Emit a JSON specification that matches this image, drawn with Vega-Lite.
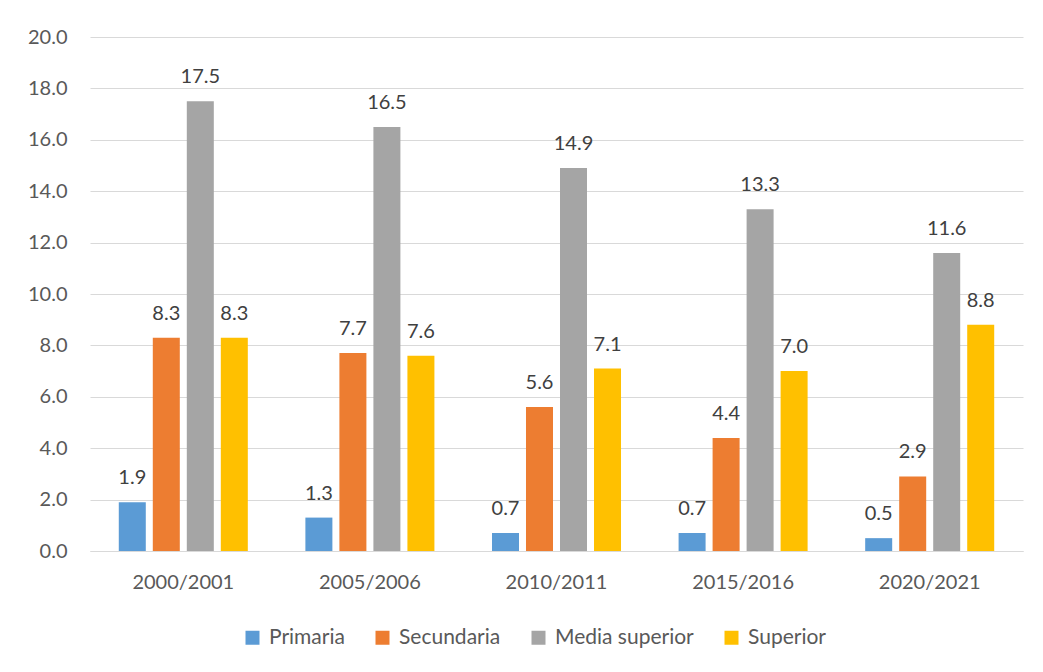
{
  "$schema": "https://vega.github.io/schema/vega-lite/v6.json",
  "width": 933,
  "height": 514,
  "autosize": "none",
  "padding": {"left": 90, "top": 37, "right": 20, "bottom": 121},
  "background": "white",
  "config": {
    "view": {"stroke": null},
    "font": "Lato"
  },
  "data": {
    "values": [
      {"periodo": "2000/2001", "nivel": "Primaria", "valor": 1.9},
      {"periodo": "2000/2001", "nivel": "Secundaria", "valor": 8.3},
      {"periodo": "2000/2001", "nivel": "Media superior", "valor": 17.5},
      {"periodo": "2000/2001", "nivel": "Superior", "valor": 8.3},
      {"periodo": "2005/2006", "nivel": "Primaria", "valor": 1.3},
      {"periodo": "2005/2006", "nivel": "Secundaria", "valor": 7.7},
      {"periodo": "2005/2006", "nivel": "Media superior", "valor": 16.5},
      {"periodo": "2005/2006", "nivel": "Superior", "valor": 7.6},
      {"periodo": "2010/2011", "nivel": "Primaria", "valor": 0.7},
      {"periodo": "2010/2011", "nivel": "Secundaria", "valor": 5.6},
      {"periodo": "2010/2011", "nivel": "Media superior", "valor": 14.9},
      {"periodo": "2010/2011", "nivel": "Superior", "valor": 7.1},
      {"periodo": "2015/2016", "nivel": "Primaria", "valor": 0.7},
      {"periodo": "2015/2016", "nivel": "Secundaria", "valor": 4.4},
      {"periodo": "2015/2016", "nivel": "Media superior", "valor": 13.3},
      {"periodo": "2015/2016", "nivel": "Superior", "valor": 7.0},
      {"periodo": "2020/2021", "nivel": "Primaria", "valor": 0.5},
      {"periodo": "2020/2021", "nivel": "Secundaria", "valor": 2.9},
      {"periodo": "2020/2021", "nivel": "Media superior", "valor": 11.6},
      {"periodo": "2020/2021", "nivel": "Superior", "valor": 8.8}
    ]
  },
  "encoding": {
    "x": {
      "field": "periodo",
      "type": "nominal",
      "sort": null,
      "scale": {"paddingInner": 0.271, "paddingOuter": 0.1355},
      "axis": {
        "title": null,
        "labelAngle": 0,
        "labelFontSize": 20,
        "labelColor": "#595959",
        "labelPadding": 21,
        "ticks": false,
        "domainColor": "#d9d9d9",
        "domainWidth": 1
      }
    },
    "xOffset": {
      "field": "nivel",
      "type": "nominal",
      "sort": ["Primaria", "Secundaria", "Media superior", "Superior"],
      "scale": {"paddingInner": 0.206, "paddingOuter": 0.103}
    },
    "y": {
      "field": "valor",
      "type": "quantitative",
      "scale": {"domain": [0, 20]},
      "axis": {
        "title": null,
        "values": [0, 2, 4, 6, 8, 10, 12, 14, 16, 18, 20],
        "format": ".1f",
        "labelFontSize": 20,
        "labelColor": "#595959",
        "labelPadding": 23,
        "ticks": false,
        "domain": false,
        "gridColor": "#d9d9d9",
        "gridWidth": 1
      }
    }
  },
  "layer": [
    {
      "mark": {"type": "bar"},
      "encoding": {
        "color": {
          "field": "nivel",
          "type": "nominal",
          "sort": ["Primaria", "Secundaria", "Media superior", "Superior"],
          "scale": {
            "domain": ["Primaria", "Secundaria", "Media superior", "Superior"],
            "range": ["#5B9BD5", "#ED7D31", "#A5A5A5", "#FFC000"]
          },
          "legend": {
            "title": null,
            "orient": "none",
            "legendX": 152,
            "legendY": 590,
            "direction": "horizontal",
            "symbolType": "square",
            "symbolSize": 196,
            "symbolStrokeWidth": 0,
            "labelFontSize": 21,
            "labelColor": "#595959",
            "columnPadding": 27,
            "labelOffset": 6
          }
        }
      }
    },
    {
      "mark": {
        "type": "text",
        "baseline": "alphabetic",
        "dy": -18,
        "fontSize": 20,
        "color": "#404040"
      },
      "encoding": {
        "text": {"field": "valor", "type": "quantitative", "format": ".1f"}
      }
    }
  ]
}
